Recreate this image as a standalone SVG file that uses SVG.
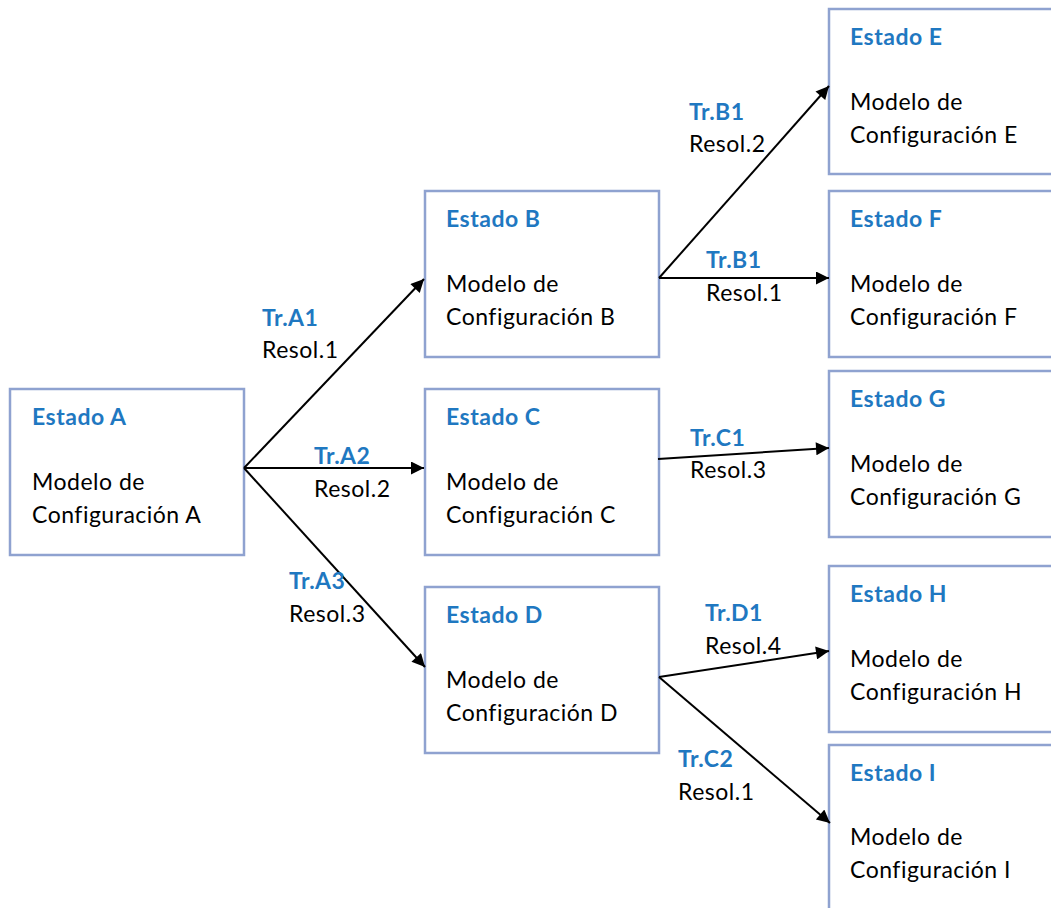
<svg xmlns="http://www.w3.org/2000/svg" width="1051" height="908" viewBox="0 0 1051 908">
  <style>
    .box { fill: #ffffff; stroke: #8FA2D0; stroke-width: 2.5; }
    .title { font-family: Lato, "Liberation Sans", sans-serif; font-size: 23px; letter-spacing: 0.5px; font-weight: bold; fill: #1F78C1; }
    .body { font-family: Lato, "Liberation Sans", sans-serif; font-size: 23px; letter-spacing: 0.5px; fill: #000000; }
    .edge { stroke: #000000; stroke-width: 2; fill: none; marker-end: url(#arrow); }
  </style>
  <defs>
    <marker id="arrow" viewBox="0 0 10 10" refX="10" refY="5" markerWidth="7.5" markerHeight="6.5" markerUnits="strokeWidth" orient="auto">
      <path d="M0,0 L10,5 L0,10 z" fill="#000000"/>
    </marker>
  </defs>
  <rect width="1051" height="908" fill="#ffffff"/>

  <!-- state nodes -->
  <g id="estado-a">
    <rect class="box" x="10" y="389" width="234" height="166"/>
    <text class="title" x="32" y="425">Estado A</text>
    <text class="body" x="32" y="490">Modelo de</text>
    <text class="body" x="32" y="523">Configuración A</text>
  </g>
  <g id="estado-b">
    <rect class="box" x="425" y="191" width="234" height="166"/>
    <text class="title" x="446" y="227">Estado B</text>
    <text class="body" x="446" y="292">Modelo de</text>
    <text class="body" x="446" y="325">Configuración B</text>
  </g>
  <g id="estado-c">
    <rect class="box" x="425" y="389" width="234" height="166"/>
    <text class="title" x="446" y="425">Estado C</text>
    <text class="body" x="446" y="490">Modelo de</text>
    <text class="body" x="446" y="523">Configuración C</text>
  </g>
  <g id="estado-d">
    <rect class="box" x="425" y="587" width="234" height="166"/>
    <text class="title" x="446" y="623">Estado D</text>
    <text class="body" x="446" y="688">Modelo de</text>
    <text class="body" x="446" y="721">Configuración D</text>
  </g>
  <g id="estado-e">
    <rect class="box" x="829" y="9" width="234" height="165"/>
    <text class="title" x="850" y="45">Estado E</text>
    <text class="body" x="850" y="110">Modelo de</text>
    <text class="body" x="850" y="143">Configuración E</text>
  </g>
  <g id="estado-f">
    <rect class="box" x="829" y="191" width="234" height="166"/>
    <text class="title" x="850" y="227">Estado F</text>
    <text class="body" x="850" y="292">Modelo de</text>
    <text class="body" x="850" y="325">Configuración F</text>
  </g>
  <g id="estado-g">
    <rect class="box" x="829" y="371" width="234" height="166"/>
    <text class="title" x="850" y="407">Estado G</text>
    <text class="body" x="850" y="472">Modelo de</text>
    <text class="body" x="850" y="505">Configuración G</text>
  </g>
  <g id="estado-h">
    <rect class="box" x="829" y="566" width="234" height="166"/>
    <text class="title" x="850" y="602">Estado H</text>
    <text class="body" x="850" y="667">Modelo de</text>
    <text class="body" x="850" y="700">Configuración H</text>
  </g>
  <g id="estado-i">
    <rect class="box" x="829" y="745" width="234" height="180"/>
    <text class="title" x="850" y="781">Estado I</text>
    <text class="body" x="850" y="845">Modelo de</text>
    <text class="body" x="850" y="878">Configuración I</text>
  </g>

  <!-- transitions -->
  <g id="connectors">
    <line class="edge" x1="244" y1="468" x2="424" y2="279"/>
    <line class="edge" x1="244" y1="468" x2="424" y2="468"/>
    <line class="edge" x1="244" y1="468" x2="425" y2="667"/>
    <line class="edge" x1="659" y1="278" x2="829" y2="86"/>
    <line class="edge" x1="659" y1="278" x2="829" y2="278"/>
    <line class="edge" x1="658" y1="459" x2="829" y2="448"/>
    <line class="edge" x1="659" y1="677" x2="829" y2="651"/>
    <line class="edge" x1="659" y1="677" x2="830" y2="823"/>
  </g>

  <!-- transition labels -->
  <g id="labels">
    <text class="title" x="262" y="326">Tr.A1</text>
    <text class="body" x="262" y="358">Resol.1</text>
    <text class="title" x="314" y="464">Tr.A2</text>
    <text class="body" x="314" y="497">Resol.2</text>
    <text class="title" x="289" y="589">Tr.A3</text>
    <text class="body" x="289" y="622">Resol.3</text>
    <text class="title" x="689" y="120">Tr.B1</text>
    <text class="body" x="689" y="152">Resol.2</text>
    <text class="title" x="706" y="268">Tr.B1</text>
    <text class="body" x="706" y="301">Resol.1</text>
    <text class="title" x="690" y="446">Tr.C1</text>
    <text class="body" x="690" y="478">Resol.3</text>
    <text class="title" x="705" y="621">Tr.D1</text>
    <text class="body" x="705" y="654">Resol.4</text>
    <text class="title" x="678" y="767">Tr.C2</text>
    <text class="body" x="678" y="800">Resol.1</text>
  </g>
</svg>
